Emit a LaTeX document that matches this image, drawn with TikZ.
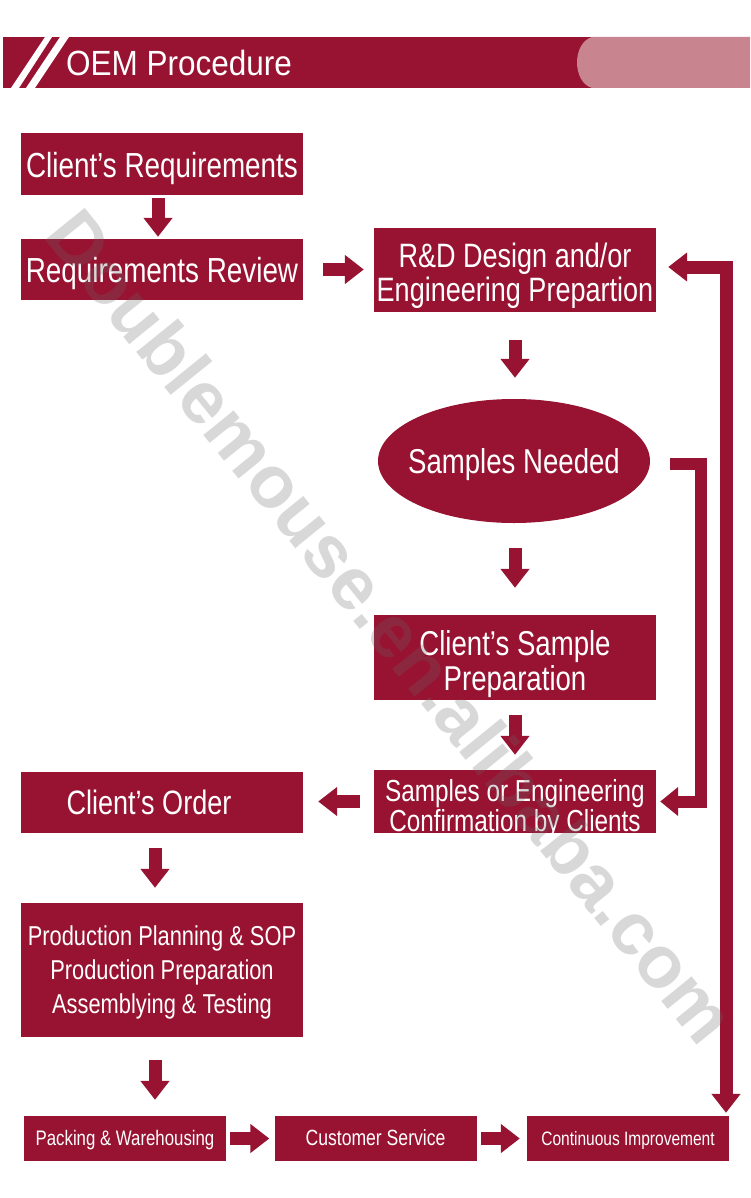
\documentclass[tikz,border=0pt]{standalone}
\usepackage{fontspec}
\setmainfont{Liberation Sans}
\newfontfamily\nf[FakeStretch=0.8]{Liberation Sans}
\newfontfamily\tf[FakeStretch=0.9]{Liberation Sans}
\newfontfamily\wf{Liberation Sans Bold}
\usetikzlibrary{arrows.meta,calc,shapes.geometric}
\definecolor{wine}{RGB}{152,19,50}
\definecolor{rose}{RGB}{200,132,143}
\begin{document}
\begin{tikzpicture}[x=1pt,y=-1pt,
  box/.style={fill=wine, text=white, inner sep=0pt, align=center, minimum width=282pt},
  small/.style={box, minimum width=202pt, minimum height=45pt, text height=14pt, text depth=0pt},
  barrow/.style={draw=wine, line width=13pt, -{Triangle[width=28pt,length=19pt]}},
  elbow/.style={draw=wine, line width=12pt, -{Triangle[width=28pt,length=18pt]}},
  dblelbow/.style={draw=wine, line width=13pt, {Triangle[width=28pt,length=19pt]}-{Triangle[width=28pt,length=19pt]}},
  fs/.style={font=\nf\fontsize{#1}{#1}\selectfont},
  th/.style 2 args={text height=#1pt, text depth=#2pt}
]
\useasboundingbox (0,0) rectangle (750,1198);
\fill[white] (0,0) rectangle (750,1198);
% header
\fill[wine] (3,37) rectangle (600,88);
\fill[rose] (592,37) -- (750,37) -- (750,88) -- (592,88) .. controls (572,82) and (572,43) .. (592,37) -- cycle;
\fill[white] (11,88) -- (19,88) -- (52,37) -- (45,37) -- cycle;
\fill[white] (26,88) -- (35,88) -- (69,37) -- (60,37) -- cycle;
\node[anchor=west, text=white, inner sep=0pt, font=\tf\fontsize{35}{35}\selectfont] (title) at (66,63) {OEM Procedure};
% boxes
\node[box, minimum height=62pt, fs=34.8, th={28}{0}] (b1) at (162,164) {Client’s Requirements};
\node[box, minimum height=61pt, fs=34.8, th={26}{0}] (b2) at (162,269.5) {Requirements Review};
\node[box, minimum height=84pt, fs=33.8, th={62}{0}, execute at begin node=\setlength{\baselineskip}{34pt}] (b3) at (515,270) {R\&D Design and/or\\Engineering Prepartion};
\node[ellipse, fill=wine, text=white, inner xsep=-9.7pt, inner ysep=0pt, minimum width=272pt, minimum height=124pt, fs=34.5, th={25}{0}] (ell) at (514,461) {Samples Needed};
\node[box, minimum height=85pt, fs=34.5, th={66}{0}, execute at begin node=\setlength{\baselineskip}{35pt}] (b5) at (515,657.5) {Client’s Sample\\Preparation};
\node[box, minimum height=63pt, fs=30.4, th={59}{0}, execute at begin node=\setlength{\baselineskip}{30pt}] (b6) at (515,801.5) {Samples or Engineering\\Confirmation by Clients};
\node[box, minimum height=61pt, fs=33.8, th={24}{0}] (b7) at (162,802.5) {Client’s Order\hspace*{26pt}};
\node[box, minimum height=134pt, fs=27.3, th={86}{0}, execute at begin node=\setlength{\baselineskip}{34pt}] (b8) at (162,970) {Production Planning \& SOP\\Production Preparation\\Assemblying \& Testing};
\node[small, fs=21] (b9) at (125,1138.5) {Packing \& Warehousing};
\node[small, fs=22] (b10) at (375.5,1138.5) {Customer Service};
\node[small, fs=19.4] (b11) at (628,1138.5) {Continuous Improvement};
% straight block arrows
\draw[barrow, shorten <=3pt, shorten >=2pt] ([xshift=-4pt]b1.south) -- ([xshift=-4pt]b2.north);
\draw[barrow, shorten <=20pt, shorten >=10pt] (b2.east) -- (b2.east -| b3.west);
\draw[barrow, shorten <=28pt, shorten >=21pt] (b3.south) -- (b3.south |- ell.north);
\draw[barrow, shorten <=25pt, shorten >=27pt] (ell.south -| b5.north) -- (b5.north);
\draw[barrow, shorten <=15pt, shorten >=15pt] (b5.south) -- (b6.north);
\draw[barrow, shorten <=14pt, shorten >=15pt] (b6.west) -- (b6.west -| b7.east);
\draw[barrow, shorten <=15pt, shorten >=15pt] ([xshift=-7pt]b7.south) -- ([xshift=-7pt]b8.north);
\draw[barrow, shorten <=23pt, shorten >=16pt] ([xshift=-7pt]b8.south) -- ([xshift=-7pt]b8.south |- b9.north);
\draw[barrow, shorten <=4pt, shorten >=5pt] (b9.east) -- (b10.west);
\draw[barrow, shorten <=4pt, shorten >=7pt] (b10.east) -- (b11.west);
% elbow connectors
\coordinate (c1) at (701,464);
\draw[elbow] ($(ell.east)+(20,3)$) -- (c1) |- ($(b6.east)+(4,0)$);
\coordinate (c2) at (726,267);
\draw[dblelbow, shorten >=3pt] ($(b3.east)+(12,-3)$) -- (c2) -- (c2 |- b11.north);
% watermark
\node[rotate=-51, text=black!60, text opacity=0.25, font=\wf\fontsize{74}{74}\selectfont] (wm) at (392,626) {Doublemouse.en.alibaba.com};
\end{tikzpicture}
\end{document}
